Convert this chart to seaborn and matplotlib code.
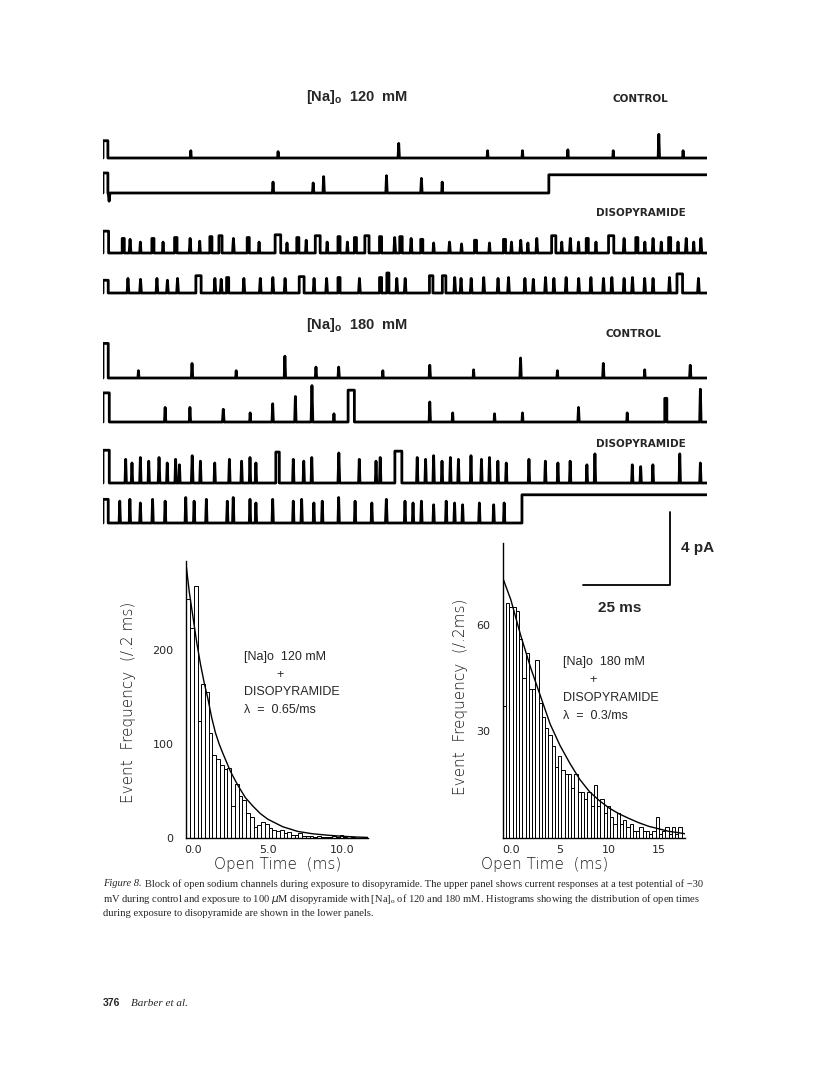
import matplotlib
matplotlib.use("Agg")
import matplotlib.pyplot as plt
import seaborn as sns

W, H = 816, 1078

# ---------------- histogram data ----------------
# [Na]o 120 mM + disopyramide
bin120_start = -0.45
bin120_width = 0.25
counts120 = [255, 224, 268, 125, 164, 155, 112, 88, 84, 78,
             73, 75, 34, 57, 45, 40, 27, 22, 12, 14,
             17, 15, 11, 9, 7, 8, 5, 6, 3, 3,
             5, 2, 2, 2, 1, 2, 1, 1, 1, 2,
             1, 3, 1, 0, 1, 0, 0, 0]
fit120_t = [-0.47, -0.25, 0, 0.25, 0.5, 0.75, 1, 1.25, 1.5, 1.75, 2, 2.5, 3, 3.5,
            4, 4.5, 5, 6, 7, 8, 9, 10, 11, 11.7]
fit120_y = [292, 262, 235, 208, 185, 165, 148, 128, 112, 100, 90, 71, 56, 43,
            34, 26, 20, 12, 7, 4.5, 3, 1.8, 1, 0.6]

# [Na]o 180 mM + disopyramide
bin180_start = -0.8
bin180_width = 0.33
counts180 = [37, 66, 65, 65, 64, 56, 45, 52, 42, 42,
             50, 38, 34, 31, 29, 26, 20, 23, 19, 18,
             18, 14, 18, 13, 13, 11, 13, 9, 15, 9,
             11, 7, 9, 6, 4, 7, 4, 5, 3, 4,
             2, 2, 3, 2, 2, 1, 2, 6, 1, 2,
             3, 1, 3, 1, 3]
fit180_t = [-0.8, -0.4, 0, 0.5, 1, 1.5, 2, 2.5, 3, 3.5, 4, 4.5, 5, 6, 7, 8, 9,
            10, 11, 12, 13, 14, 15, 16, 17, 17.7]
fit180_y = [73, 70, 67, 62, 57, 52.5, 48, 44, 40, 36, 32, 29, 26, 21, 16.5, 13, 10.5,
            8.4, 6.8, 5.5, 4.3, 3.3, 2.6, 1.9, 1.5, 1.2]

# ---------------- single channel records ----------------
# events: (start ms, duration ms, amplitude pA)
trace_len = 173
scale_ms = 25
scale_pA = 4

ctrl120_a = [(0, 1.4, 0.95), (25, 0.3, 0.4), (50, 0.3, 0.35), (84.5, 0.4, 0.8),
             (110, 0.3, 0.4), (120, 0.3, 0.4), (133, 0.3, 0.45), (146, 0.3, 0.4),
             (159, 0.4, 1.3), (166, 0.3, 0.4)]
ctrl120_b = [(0, 1.4, 1.1), (1.5, 0.5, -0.45), (48.5, 0.4, 0.6), (60, 0.4, 0.55),
             (63, 0.4, 0.9), (81, 0.4, 0.95), (91, 0.4, 0.8), (97, 0.3, 0.6),
             (127.7, 45.3, 1.0)]
disop120_a = [(0, 1.6, 1.2), (5.5, 0.6, 0.8), (7.5, 0.5, 0.75), (10.5, 0.4, 0.6),
              (14, 0.6, 0.8), (17, 0.4, 0.6), (20.5, 0.7, 0.85), (24.7, 0.5, 0.8),
              (27.5, 0.4, 0.65), (30.6, 0.6, 0.9), (33.2, 0.9, 0.95), (37.1, 0.5, 0.8),
              (41.3, 0.6, 0.85), (44.5, 0.4, 0.6), (49.3, 1.6, 1.0), (52.5, 0.4, 0.55),
              (55.5, 0.6, 0.85), (58, 0.4, 0.7), (60.8, 1.4, 0.95), (64, 0.4, 0.6),
              (67.3, 0.6, 0.9), (69.8, 0.4, 0.6), (72, 0.6, 0.85), (75, 1.2, 0.95),
              (79.2, 0.6, 0.9), (83.3, 0.5, 0.85), (85, 0.7, 0.9), (88, 0.5, 0.8),
              (91, 0.6, 0.75), (94.5, 0.4, 0.55), (99, 0.5, 0.6), (102.5, 0.4, 0.5),
              (106.4, 0.6, 0.7), (110.5, 0.4, 0.55), (114.7, 0.6, 0.75), (116.8, 0.4, 0.6),
              (119.4, 0.5, 0.7), (121.5, 0.4, 0.55), (124, 0.5, 0.8), (128.5, 1.2, 0.95),
              (131.2, 0.4, 0.6), (133.6, 0.5, 0.8), (136, 0.4, 0.6), (138.4, 0.6, 0.8),
              (141, 0.4, 0.6), (144.8, 1.5, 0.95), (149, 0.5, 0.8), (152.6, 0.6, 0.85),
              (155, 0.4, 0.6), (157.3, 0.5, 0.8), (159.7, 0.4, 0.6), (162, 0.6, 0.85),
              (164.5, 0.4, 0.6), (166.8, 0.5, 0.8), (169, 0.4, 0.6), (171, 0.5, 0.8)]
disop120_b = [(0, 1.5, 0.7), (6.9, 0.5, 0.8), (10.5, 0.5, 0.75), (15.2, 0.5, 0.8),
              (18.2, 0.5, 0.7), (21.1, 0.5, 0.8), (26.6, 1.5, 0.95), (31.8, 0.5, 0.8),
              (33.6, 0.5, 0.75), (35.4, 0.6, 0.85), (40.1, 0.5, 0.8), (44.8, 0.5, 0.8),
              (48.4, 0.5, 0.85), (51.9, 0.5, 0.8), (56.2, 1.4, 0.9), (60.2, 0.5, 0.8),
              (63.8, 0.5, 0.8), (67.3, 0.6, 0.85), (73.2, 0.5, 0.8), (79.2, 0.6, 0.85),
              (81.3, 0.6, 1.1), (83.9, 0.5, 0.8), (86.3, 0.5, 0.8), (93.5, 1.0, 0.95),
              (97.2, 1.0, 0.95), (100.5, 0.5, 0.85), (102.3, 0.5, 0.8), (105.2, 0.5, 0.8),
              (108.8, 0.5, 0.85), (112.9, 0.5, 0.8), (115.9, 0.5, 0.85), (120.6, 0.5, 0.8),
              (123, 0.5, 0.75), (126.5, 0.5, 0.85), (128.9, 0.5, 0.8), (132.4, 0.5, 0.85),
              (136, 0.5, 0.8), (139.5, 0.5, 0.85), (143.1, 0.5, 0.8), (145.5, 0.5, 0.85),
              (149, 0.5, 0.8), (151.4, 0.5, 0.85), (154.9, 0.5, 0.8), (157.3, 0.5, 0.8),
              (162, 0.5, 0.85), (164.4, 1.6, 1.05), (170.3, 0.5, 0.8)]
ctrl180_a = [(0, 1.5, 1.9), (10, 0.3, 0.4), (25.3, 0.4, 0.8), (38, 0.3, 0.4),
             (51.9, 0.4, 1.2), (60.8, 0.4, 0.6), (67.3, 0.4, 0.6), (80, 0.3, 0.4),
             (93.4, 0.4, 0.7), (106, 0.3, 0.45), (119.4, 0.4, 1.1), (130, 0.3, 0.4),
             (143.1, 0.4, 0.8), (155, 0.3, 0.45), (168, 0.4, 0.7)]
ctrl180_b = [(0, 1.8, 1.6), (17.6, 0.4, 0.8), (24.7, 0.4, 0.8), (34.2, 0.5, 0.7),
             (42, 0.3, 0.5), (48.4, 0.4, 1.0), (54.9, 0.4, 1.4), (59.6, 0.5, 2.0),
             (66, 0.3, 0.45), (70.2, 1.8, 1.75), (93.4, 0.4, 1.1), (100, 0.3, 0.5),
             (112, 0.3, 0.45), (120, 0.3, 0.5), (136, 0.4, 0.8), (150, 0.3, 0.5),
             (160.9, 0.6, 1.3), (170.9, 0.4, 1.8)]
disop180_a = [(0, 1.8, 1.8), (6.3, 0.4, 1.3), (8.1, 0.4, 1.1), (10.5, 0.4, 1.4),
              (12.9, 0.4, 1.2), (15.8, 0.5, 1.4), (18.2, 0.4, 1.1), (20.6, 0.4, 1.3),
              (21.7, 0.4, 1.0), (25.3, 0.5, 1.5), (27.7, 0.4, 1.2), (31.8, 0.4, 1.1),
              (36, 0.4, 1.3), (39.5, 0.4, 1.2), (41.9, 0.4, 1.4), (43.6, 0.4, 1.1),
              (49.5, 1.0, 1.7), (54.3, 0.4, 1.3), (57.3, 0.4, 1.2), (59.6, 0.4, 1.4),
              (67.3, 0.5, 1.65), (73.2, 0.4, 1.3), (78, 0.4, 1.2), (79.2, 0.4, 1.4),
              (83.6, 2.0, 1.75), (89.8, 0.4, 1.4), (92.2, 0.4, 1.3), (94.5, 0.4, 1.5),
              (96.9, 0.4, 1.2), (99.3, 0.4, 1.4), (101.6, 0.4, 1.3), (105.2, 0.4, 1.5),
              (108.2, 0.4, 1.3), (110.5, 0.4, 1.4), (112.9, 0.4, 1.2), (115.3, 0.4, 1.1),
              (121.8, 0.4, 1.3), (126.5, 0.4, 1.2), (130.1, 0.4, 1.1), (133.6, 0.4, 1.2),
              (138.4, 0.4, 1.0), (140.7, 0.4, 1.6), (151.4, 0.4, 1.0), (153.8, 0.4, 0.9),
              (157.3, 0.4, 1.0), (165, 0.4, 1.6), (170.9, 0.4, 1.1)]
disop180_b = [(0, 1.5, 1.3), (4.6, 0.4, 1.2), (7.5, 0.4, 1.3), (10.5, 0.4, 1.1),
              (14, 0.4, 1.3), (17.6, 0.4, 1.2), (23.5, 0.4, 1.4), (25.9, 0.4, 1.2),
              (29.4, 0.4, 1.3), (35.4, 0.4, 1.2), (37.1, 0.4, 1.4), (41.9, 0.4, 1.3),
              (43.6, 0.4, 1.1), (48.4, 0.4, 1.3), (54.3, 0.4, 1.2), (56.7, 0.4, 1.3),
              (60.2, 0.4, 1.1), (62.6, 0.4, 1.2), (67.3, 0.4, 1.4), (72, 0.4, 1.2),
              (76.8, 0.4, 1.1), (80.9, 0.5, 1.3), (86.3, 0.4, 1.2), (88.6, 0.4, 1.1),
              (91, 0.4, 1.2), (94.5, 0.4, 1.0), (98.1, 0.4, 1.2), (100.5, 0.4, 1.1),
              (102.8, 0.4, 1.0), (107.6, 0.4, 1.1), (111.7, 0.4, 1.0), (114.7, 0.4, 1.1),
              (120, 53, 1.55)]

# baseline of each record, in figure pixels (layout only)
trace_rows = [(ctrl120_a, 158), (ctrl120_b, 193), (disop120_a, 253), (disop120_b, 293),
              (ctrl180_a, 378), (ctrl180_b, 422), (disop180_a, 483), (disop180_b, 523)]


def trace_xy(events):
    # step waveform; brief openings drawn as spikes (rise, then fall)
    xs, ys = [], []
    if events[0][0] > 0:
        xs, ys = [0.0], [0.0]
    for t0, dur, amp in sorted(events):
        end = min(t0 + dur, trace_len)
        if end >= trace_len:
            xs += [t0, t0, end]
            ys += [0, amp, amp]
            return xs, ys
        if dur < 0.55 and t0 > 0:
            mid = t0 + dur / 2
            xs += [t0, mid, end]
            ys += [0, amp, 0]
        else:
            xs += [t0, t0, end, end]
            ys += [0, amp, amp, 0]
    xs.append(trace_len)
    ys.append(0)
    return xs, ys


sns.set_style("white")
plt.rcParams['font.family'] = ['Liberation Sans', 'DejaVu Sans']

fig = plt.figure(figsize=(W / 100, H / 100), dpi=100)


def fx(x):
    return x / W


def fy(y):
    return 1 - y / H


# ---------------- histograms ----------------
def draw_hist(ax, start, width, counts, fit_t, fit_y):
    edges = [start + width * k for k in range(len(counts) + 1)]
    centers = [start + width * (k + 0.5) for k in range(len(counts))]
    sns.histplot(x=centers, weights=counts, bins=edges, ax=ax, element='bars',
                 fill=False, color='black', linewidth=0.7)
    sns.lineplot(x=fit_t, y=fit_y, ax=ax, color='black', lw=1.0, sort=False)
    sns.despine(ax=ax)
    ax.patch.set_visible(False)
    for s in ['left', 'bottom']:
        ax.spines[s].set_color('black')
        ax.spines[s].set_linewidth(1.0)
    ax.tick_params(length=0, labelsize=8)
    ax.set_xlabel('')
    ax.set_ylabel('')


ax1 = fig.add_axes([fx(186), fy(838), (368 - 186) / W, (838 - 561) / H])
draw_hist(ax1, bin120_start, bin120_width, counts120, fit120_t, fit120_y)
ax1.set_xlim(-0.47, 11.7)
ax1.set_ylim(0, 295)
ax1.set_yticks([0, 100, 200])
ax1.set_xticks([0, 5, 10])
ax1.set_xticklabels(['0.0', '5.0', '10.0'], family='DejaVu Sans')
ax1.set_yticklabels(['0', '100', '200'], family='DejaVu Sans')
ax1.tick_params(axis='y', pad=9)
ax1.tick_params(axis='x', pad=5)

ax2 = fig.add_axes([fx(503), fy(838), (685 - 503) / W, (838 - 543) / H])
draw_hist(ax2, bin180_start, bin180_width, counts180, fit180_t, fit180_y)
ax2.set_xlim(-0.8, 17.7)
ax2.set_ylim(0, 83)
ax2.set_yticks([30, 60])
ax2.set_xticks([0, 5, 10, 15])
ax2.set_xticklabels(['0.0', '5', '10', '15'], family='DejaVu Sans')
ax2.set_yticklabels(['30', '60'], family='DejaVu Sans')
ax2.tick_params(axis='y', pad=9)
ax2.tick_params(axis='x', pad=5)

axis_font = dict(family=['DejaVu Sans'], fontsize=11, fontweight='light', color='#1a1a1a')
fig.text(fx(278), fy(864), 'Open Time  (ms)', ha='center', va='center', **axis_font)
fig.text(fx(545), fy(864), 'Open Time  (ms)', ha='center', va='center', **axis_font)
fig.text(fx(128), fy(702), 'Event  Frequency  (/.2 ms)', rotation=90,
         ha='center', va='center', **axis_font)
fig.text(fx(460), fy(697), 'Event  Frequency  (/.2ms)', rotation=90,
         ha='center', va='center', **axis_font)

ann = dict(fontsize=9, va='center', ha='left')
fig.text(fx(244), fy(657), '[Na]o  120 mM', **ann)
fig.text(fx(280), fy(675), '+', fontsize=9, va='center', ha='center')
fig.text(fx(244), fy(692), 'DISOPYRAMIDE', **ann)
fig.text(fx(244), fy(710), 'λ  =  0.65/ms', **ann)
fig.text(fx(563), fy(662), '[Na]o  180 mM', **ann)
fig.text(fx(593), fy(680), '+', fontsize=9, va='center', ha='center')
fig.text(fx(563), fy(698), 'DISOPYRAMIDE', **ann)
fig.text(fx(563), fy(716), 'λ  =  0.3/ms', **ann)

# ---------------- traces panel (drawn on top) ----------------
px_per_pA = 18.2
tr_top, tr_bot = 80, 600
ax_tr = fig.add_axes([fx(103), fy(tr_bot), (707 - 103) / W, (tr_bot - tr_top) / H])
ax_tr.set_xlim(0, trace_len)
ax_tr.set_ylim(0, (tr_bot - tr_top) / px_per_pA)
ax_tr.axis('off')
for events, base_px in trace_rows:
    xs, ys = trace_xy(events)
    off = (tr_bot - base_px) / px_per_pA
    ax_tr.plot(xs, [v + off for v in ys], color='black', lw=2.0)

# scale bar
sb_x = (670 - 103) / (604 / trace_len)
sb_y = (tr_bot - 585) / px_per_pA
ax_tr.plot([sb_x - scale_ms, sb_x, sb_x], [sb_y, sb_y, sb_y + scale_pA],
           color='black', lw=1.3)
fig.text(fx(681), fy(548), '4 pA', fontsize=11, fontweight='bold', va='center', ha='left')
fig.text(fx(620), fy(608), '25 ms', fontsize=11, fontweight='bold', va='center', ha='center')

# titles / conditions
lab_font = dict(family=['DejaVu Sans'], fontsize=7.5, fontweight='bold', va='center', ha='center')
fig.text(fx(357), fy(97), r'[Na]$_\mathregular{o}$  120  mM', fontsize=10.5,
         fontweight='bold', ha='center', va='center')
fig.text(fx(640), fy(99), 'CONTROL', **lab_font)
fig.text(fx(641), fy(213), 'DISOPYRAMIDE', **lab_font)
fig.text(fx(357), fy(325), r'[Na]$_\mathregular{o}$  180  mM', fontsize=10.5,
         fontweight='bold', ha='center', va='center')
fig.text(fx(633), fy(334), 'CONTROL', **lab_font)
fig.text(fx(641), fy(444), 'DISOPYRAMIDE', **lab_font)

# ---------------- caption ----------------
cap = dict(family=['Liberation Serif', 'DejaVu Serif'], fontsize=7.6, va='center', ha='left')
renderer = fig.canvas.get_renderer()
t_fig = fig.text(fx(103), fy(884), 'Figure 8.', style='italic', **cap)
bb = t_fig.get_window_extent(renderer)
fig.text(bb.x1 / W + 3 / W, fy(884),
         'Block of open sodium channels during exposure to disopyramide. '
         'The upper panel shows current responses at a test potential of \u221230', **cap)
fig.text(fx(103), fy(899),
         r'mV during control and exposure to 100 $\mu$M disopyramide with [Na]$_\mathregular{o}$ '
         'of 120 and 180 mM. Histograms showing the distribution of open times', **cap)
fig.text(fx(103), fy(914),
         'during exposure to disopyramide are shown in the lower panels.', **cap)

fig.text(fx(103), fy(1003), '376', fontsize=7.5, fontweight='bold', va='center', ha='left')
fig.text(fx(131), fy(1003), 'Barber et al.', style='italic', va='center', ha='left',
         family=['Liberation Serif'], fontsize=8)

fig.savefig('out.png', dpi=100, facecolor='white')
